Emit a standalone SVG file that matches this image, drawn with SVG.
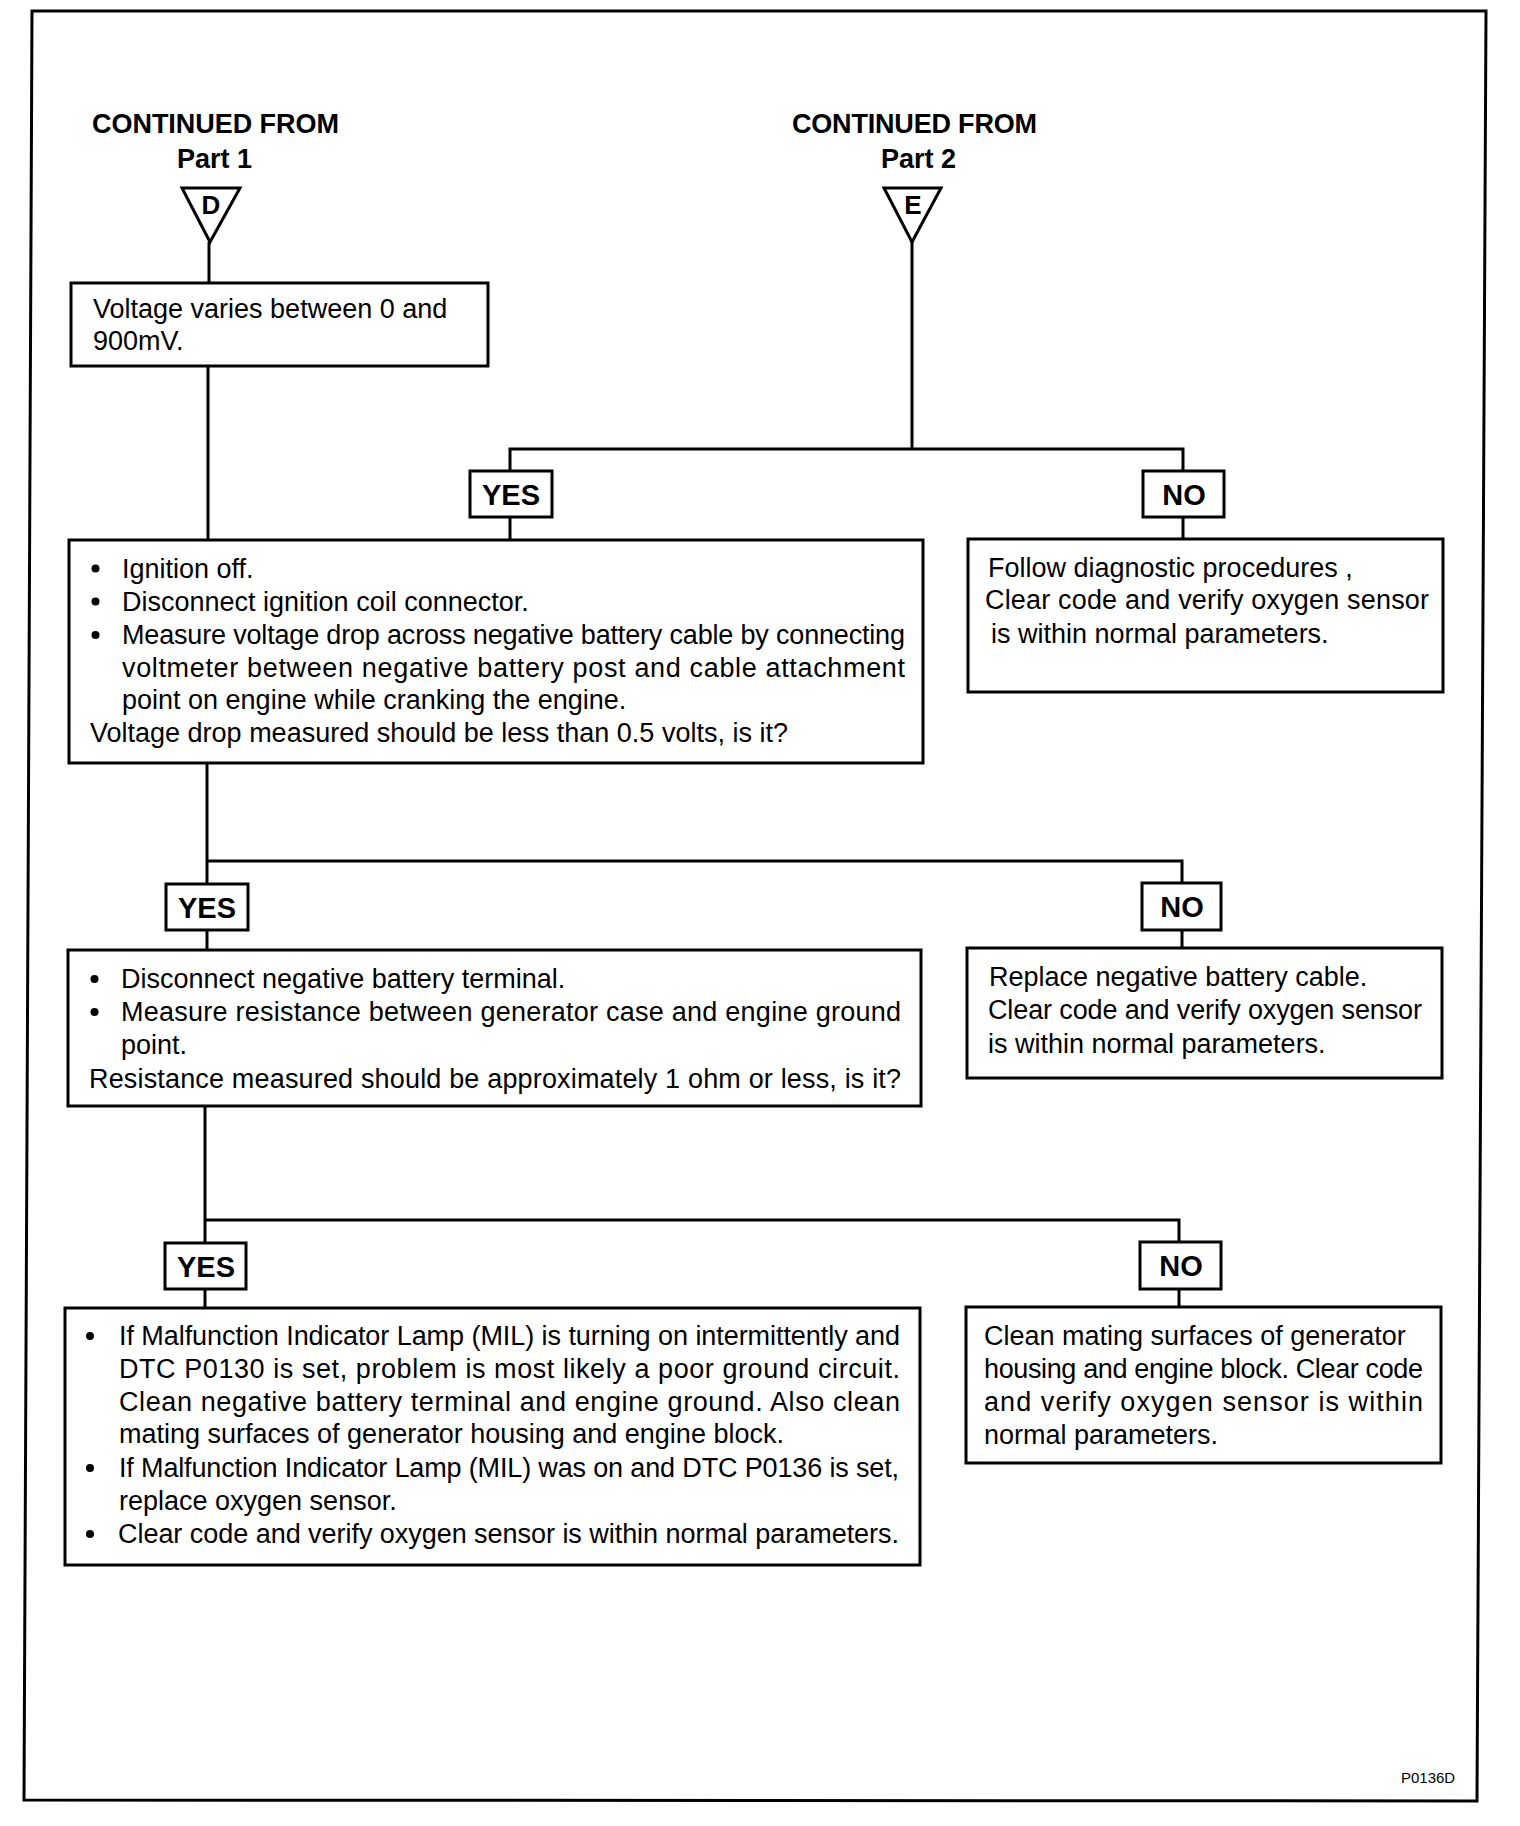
<svg xmlns="http://www.w3.org/2000/svg" width="1520" height="1826" viewBox="0 0 1520 1826">
<style>
.box{fill:none;stroke:#000;stroke-width:3}
.ln{fill:none;stroke:#000;stroke-width:3}
.t{font-family:"Liberation Sans",Arial,Helvetica,sans-serif;font-size:27px;fill:#000}
.h{font-family:"Liberation Sans",Arial,Helvetica,sans-serif;font-size:27px;font-weight:bold;fill:#000}
.lab{font-family:"Liberation Sans",Arial,Helvetica,sans-serif;font-size:29px;font-weight:bold;fill:#000;text-anchor:middle}
.tri{font-family:"Liberation Sans",Arial,Helvetica,sans-serif;font-size:26px;font-weight:bold;fill:#000;text-anchor:middle}
.small{font-family:"Liberation Sans",Arial,Helvetica,sans-serif;font-size:15px;fill:#000}
.dot{fill:#000}
</style>
<rect x="0" y="0" width="1520" height="1826" fill="#fff"/>
<path class="box" d="M32,11 L1486,11 L1477,1801 L24,1800 Z"/>

<g id="connectors">
<path class="ln" d="M209,242 L209,283"/>
<path class="ln" d="M208,366 L208,540"/>
<path class="ln" d="M912,242 L912,449"/>
<path class="ln" d="M510,471 L510,449 L1183,449 L1183,471"/>
<path class="ln" d="M510,517 L510,540"/>
<path class="ln" d="M1183,517 L1183,539"/>
<path class="ln" d="M207,763 L207,884"/>
<path class="ln" d="M207,861 L1182,861 L1182,883"/>
<path class="ln" d="M207,930 L207,950"/>
<path class="ln" d="M1182,930 L1182,948"/>
<path class="ln" d="M205,1106 L205,1243"/>
<path class="ln" d="M205,1220 L1179,1220 L1179,1242"/>
<path class="ln" d="M205,1289 L205,1308"/>
<path class="ln" d="M1179,1289 L1179,1307"/>
</g>

<g id="start-d">
<text class="h" x="92" y="133" textLength="247" lengthAdjust="spacing">CONTINUED FROM</text>
<text class="h" x="177" y="168">Part 1</text>
<polygon class="box" points="182,188 240,188 210,242"/>
<text class="tri" x="211" y="214">D</text>
</g>

<g id="start-e">
<text class="h" x="792" y="133" textLength="245" lengthAdjust="spacing">CONTINUED FROM</text>
<text class="h" x="881" y="168">Part 2</text>
<polygon class="box" points="884,188 941,188 912,242"/>
<text class="tri" x="913" y="214">E</text>
</g>

<g id="voltage">
<rect class="box" x="71" y="283" width="417" height="83"/>
<text class="t" x="93" y="318">Voltage varies between 0 and</text>
<text class="t" x="93" y="350">900mV.</text>
</g>

<g id="yes1">
<rect class="box" x="470" y="471" width="82" height="46"/>
<text class="lab" x="511" y="505">YES</text>
</g>
<g id="no1">
<rect class="box" x="1143" y="471" width="81" height="46"/>
<text class="lab" x="1184" y="505">NO</text>
</g>

<g id="ignition">
<rect class="box" x="69" y="540" width="854" height="223"/>
<circle class="dot" cx="95.5" cy="568.5" r="4"/>
<circle class="dot" cx="95.5" cy="601.5" r="4"/>
<circle class="dot" cx="95.5" cy="635" r="4"/>
<text class="t" x="122" y="577.5">Ignition off.</text>
<text class="t" x="122" y="610.5">Disconnect ignition coil connector.</text>
<text class="t" x="122" y="644" textLength="783" lengthAdjust="spacing">Measure voltage drop across negative battery cable by connecting</text>
<text class="t" x="122" y="677" textLength="783" lengthAdjust="spacing">voltmeter between negative battery post and cable attachment</text>
<text class="t" x="122" y="709">point on engine while cranking the engine.</text>
<text class="t" x="90" y="742">Voltage drop measured should be less than 0.5 volts, is it?</text>
</g>

<g id="follow">
<rect class="box" x="968" y="539" width="475" height="153"/>
<text class="t" x="988" y="577">Follow diagnostic procedures ,</text>
<text class="t" x="985" y="609" textLength="444" lengthAdjust="spacing">Clear code and verify oxygen sensor</text>
<text class="t" x="991" y="643">is within normal parameters.</text>
</g>

<g id="yes2">
<rect class="box" x="166" y="884" width="82" height="46"/>
<text class="lab" x="207" y="918">YES</text>
</g>
<g id="no2">
<rect class="box" x="1142" y="883" width="79" height="47"/>
<text class="lab" x="1182" y="917">NO</text>
</g>

<g id="resistance">
<rect class="box" x="68" y="950" width="853" height="156"/>
<circle class="dot" cx="94.5" cy="979" r="4"/>
<circle class="dot" cx="94.5" cy="1012" r="4"/>
<text class="t" x="121" y="988">Disconnect negative battery terminal.</text>
<text class="t" x="121" y="1021" textLength="780" lengthAdjust="spacing">Measure resistance between generator case and engine ground</text>
<text class="t" x="121" y="1054">point.</text>
<text class="t" x="89" y="1087.5" textLength="812" lengthAdjust="spacing">Resistance measured should be approximately 1 ohm or less, is it?</text>
</g>

<g id="replace">
<rect class="box" x="967" y="948" width="475" height="130"/>
<text class="t" x="989" y="986">Replace negative battery cable.</text>
<text class="t" x="988" y="1019" textLength="434" lengthAdjust="spacing">Clear code and verify oxygen sensor</text>
<text class="t" x="988" y="1053">is within normal parameters.</text>
</g>

<g id="yes3">
<rect class="box" x="165" y="1243" width="81" height="46"/>
<text class="lab" x="206" y="1277">YES</text>
</g>
<g id="no3">
<rect class="box" x="1140" y="1242" width="81" height="47"/>
<text class="lab" x="1181" y="1276">NO</text>
</g>

<g id="final-yes">
<rect class="box" x="65" y="1308" width="855" height="257"/>
<circle class="dot" cx="90" cy="1336" r="4"/>
<circle class="dot" cx="90" cy="1468" r="4"/>
<circle class="dot" cx="90" cy="1534" r="4"/>
<text class="t" x="119" y="1345" textLength="781" lengthAdjust="spacing">If Malfunction Indicator Lamp (MIL) is turning on intermittently and</text>
<text class="t" x="119" y="1378" textLength="781" lengthAdjust="spacing">DTC P0130 is set, problem is most likely a poor ground circuit.</text>
<text class="t" x="119" y="1411" textLength="781" lengthAdjust="spacing">Clean negative battery terminal and engine ground. Also clean</text>
<text class="t" x="119" y="1443">mating surfaces of generator housing and engine block.</text>
<text class="t" x="119" y="1477" textLength="780" lengthAdjust="spacing">If Malfunction Indicator Lamp (MIL) was on and DTC P0136 is set,</text>
<text class="t" x="119" y="1509.5">replace oxygen sensor.</text>
<text class="t" x="118" y="1543" textLength="781" lengthAdjust="spacing">Clear code and verify oxygen sensor is within normal parameters.</text>
</g>

<g id="clean">
<rect class="box" x="966" y="1307" width="475" height="156"/>
<text class="t" x="984" y="1345">Clean mating surfaces of generator</text>
<text class="t" x="984" y="1378" textLength="439" lengthAdjust="spacing">housing and engine block. Clear code</text>
<text class="t" x="984" y="1411" textLength="439" lengthAdjust="spacing">and verify oxygen sensor is within</text>
<text class="t" x="984" y="1444">normal parameters.</text>
</g>

<text class="small" x="1401" y="1783">P0136D</text>
</svg>
